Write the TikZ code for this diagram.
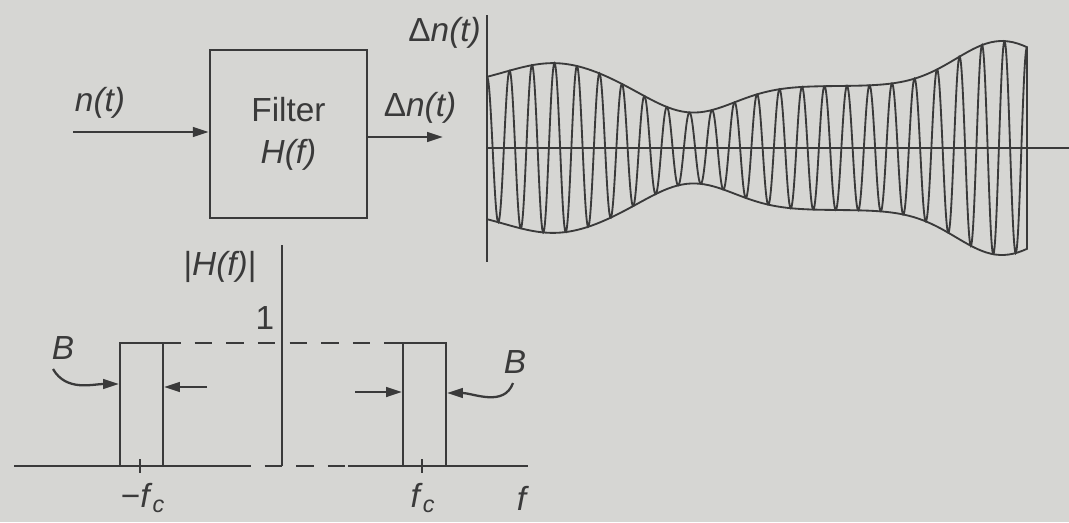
\documentclass[tikz,border=0pt]{standalone}
\usepackage{fontspec}
\setmainfont{Liberation Sans}
\usetikzlibrary{arrows.meta, positioning}
\definecolor{paper}{HTML}{D6D6D3}
\definecolor{ink}{HTML}{3A3A3A}

\begin{document}
\begin{tikzpicture}[
    x=0.02cm, y=-0.02cm,
    font=\fontsize{19}{24}\selectfont,
    every node/.style={text=ink},
    filterbox/.style={draw=ink, line width=1.5pt, rectangle, minimum width=3.14cm, minimum height=3.36cm, align=center, inner sep=0pt},
    arrow/.style={-{Triangle[length=9pt, width=5.5pt]}, draw=ink, line width=1.3pt},
    axis/.style={draw=ink, line width=1.4pt},
    wave/.style={draw=ink, line width=1.05pt},
    dashline/.style={draw=ink, line width=1.4pt, dash pattern=on 10pt off 8pt},
    declare function={env(\u)=62+23*exp(0-((\u-67)/70)^2)-27*exp(0-((\u-205)/60)^2)+45*exp(0-((\u-515)/65)^2);}
]
\fill[paper] (0,0) rectangle (1069,522);
\useasboundingbox (0,0) rectangle (1069,522);

% Filter block
\node [filterbox] (filt) at (288.5,134) {Filter\\ \textit{H(f)}};
\coordinate (in) at (73,132);
\coordinate (out) at (443,137);
\node (nin) at (100,103) {\textit{n(t)}};
\node (nout) at (420,108) {Δ\textit{n(t)}};
\draw [arrow] (in) -- (in -| filt.west);
\draw [arrow] (filt.east |- out) -- (out);

% Output signal
\coordinate (wtop) at (487,15);
\coordinate (wbot) at (487,262);
\coordinate (wo) at (487,148);
\coordinate (wend) at (1069,148);
\node [left=0pt of wtop, yshift=-0.36cm] (wlab) {Δ\textit{n(t)}};
\draw [axis] (wtop) -- (wbot);
\draw [axis] (wo) -- (wend);
\draw [wave] plot[domain=0:540, samples=1000] ({487+\x},{148-env(\x)*cos(16*\x)});
\draw [wave] plot[domain=0:540, samples=120] ({487+\x},{148-env(\x)})
    -- plot[domain=540:0, samples=120] ({487+\x},{148+env(\x)});

% Filter response
\coordinate (ftop) at (282,245);
\coordinate (fo) at (282,466);
\coordinate (fl) at (14,466);
\coordinate (fr) at (528,466);
\node (hlab) at (220,267) {|\textit{H(f)}|};
\node (one) at (265,318) {1};
\draw [axis] (ftop) -- (fo);
\draw [axis] (fl) -- (233,466);
\draw [dashline] (233,466) -- (348,466);
\draw [axis] (348,466) -- (fr);
\draw [axis] (120,466) |- (163,343) -- (163,466);
\draw [axis] (403,466) |- (446,343) -- (446,466);
\draw [dashline] (163,343) -- (403,343);
\draw [axis] (140,459) -- (140,473);
\draw [axis] (422,459) -- (422,473);
\node (mfc) at (143,498) {−\textit{f}\textsubscript{\textit{c}}};
\node (pfc) at (423,498) {\textit{f}\textsubscript{\textit{c}}};
\node (flab) at (523,498) {\textit{f}};

% Bandwidth markers
\node (lB) at (63,348) {\textit{B}};
\node (rB) at (515,362) {\textit{B}};
\coordinate (lBtail) at (53,369);
\coordinate (lLtip) at (119,384);
\coordinate (lRtail) at (207,387);
\coordinate (lRtip) at (164,387);
\coordinate (rLtail) at (355,392);
\coordinate (rLtip) at (402,392);
\coordinate (rBtail) at (513,383);
\coordinate (rRtip) at (447,393);
\draw [arrow] (lBtail) to[out=-60, in=180] (lLtip);
\draw [arrow] (lRtail) -- (lRtip);
\draw [arrow] (rLtail) -- (rLtip);
\draw [arrow] (rBtail) to[out=-110, in=0] (rRtip);

\end{tikzpicture}
\end{document}
